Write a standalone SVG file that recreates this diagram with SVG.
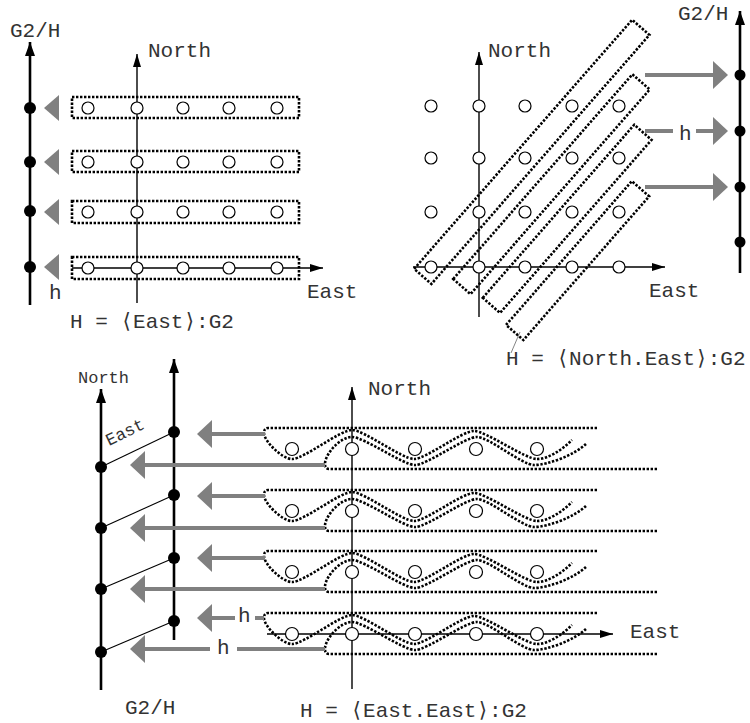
<svg xmlns="http://www.w3.org/2000/svg" xmlns:xlink="http://www.w3.org/1999/xlink" width="750" height="723" viewBox="0 0 750 723">
<style>
  .t { font-family: "Liberation Mono", "DejaVu Sans Mono", monospace; font-size: 21px; fill: #333; }
  .ts { font-family: "Liberation Mono", "DejaVu Sans Mono", monospace; font-size: 17px; fill: #333; }
  .ax { stroke: #000; stroke-width: 1.4; fill: none; }
  .axb { stroke: #000; stroke-width: 2.6; fill: none; }
  .dot { stroke: #000; stroke-width: 2.6; stroke-dasharray: 2.4 1.6; fill: none; }
  .pt { fill: #fff; stroke: #000; stroke-width: 1.2; }
  .fd { fill: #000; }
  .ga { stroke: #808080; stroke-width: 4; fill: none; }
  .gt { fill: #808080; }
  .thin { stroke: #000; stroke-width: 1.1; fill: none; }
</style>
<defs>
  <marker id="arr" markerUnits="userSpaceOnUse" viewBox="0 0 13 8" markerWidth="13" markerHeight="8" refX="13" refY="4" orient="auto">
    <path d="M0,0 L13,4 L0,8 z" fill="#000"/>
  </marker>
  <marker id="arrB" markerUnits="userSpaceOnUse" viewBox="0 0 14 10" markerWidth="14" markerHeight="10" refX="14" refY="5" orient="auto">
    <path d="M0,0 L14,5 L0,10 z" fill="#000"/>
  </marker>
  <marker id="garr" markerUnits="userSpaceOnUse" viewBox="0 0 15 28" markerWidth="15" markerHeight="28" refX="0" refY="14" orient="auto">
    <path d="M0,0 L15,14 L0,28 z" fill="#808080"/>
  </marker>
  <g id="wave">
    <path class="dot" d="M597,428 H268 Q264,428 264,433 C264,441 282,459 292,459 C304,459 340,430 352,430 C364,430 402,459 414,459 C426,459 462,431 474,431 C486,431 525,459 537,459 C548,459 562,450 572,440"/>
    <path class="dot" d="M657,469 H329 Q325,469 325,464 C325,454 340,437 352,437 C364,437 403,465 415,465 C427,465 465,437 477,437 C489,437 522,465 534,465 C548,465 575,455 587,443"/>
  </g>
  <g id="row5">
    <circle class="pt" cx="292" cy="449" r="6.5"/>
    <circle class="pt" cx="352" cy="449" r="6.5"/>
    <circle class="pt" cx="415" cy="449" r="6.5"/>
    <circle class="pt" cx="476" cy="449" r="6.5"/>
    <circle class="pt" cx="537" cy="449" r="6.5"/>
  </g>
</defs>

<!-- ================= Top-left panel: H = <East> ================= -->
<g id="panel-east">
  <g id="tl-axes">
    <line class="axb" x1="30" y1="305" x2="30" y2="42" marker-end="url(#arrB)"/>
    <line class="ax" x1="137" y1="303" x2="137" y2="54" marker-end="url(#arr)"/>
    <line class="ax" x1="72" y1="268" x2="323" y2="268" marker-end="url(#arr)"/>
  </g>
  <g id="tl-cosets">
    <rect class="dot" x="72" y="97" width="227" height="21"/>
    <rect class="dot" x="72" y="151" width="227" height="21"/>
    <rect class="dot" x="72" y="201" width="227" height="22"/>
    <rect class="dot" x="72" y="257" width="227" height="22"/>
  </g>
  <g id="tl-points">
    <circle class="pt" cx="88" cy="108" r="6"/><circle class="pt" cx="137" cy="108" r="6"/><circle class="pt" cx="183" cy="108" r="6"/><circle class="pt" cx="229" cy="108" r="6"/><circle class="pt" cx="277" cy="108" r="6"/>
    <circle class="pt" cx="88" cy="162" r="6"/><circle class="pt" cx="137" cy="162" r="6"/><circle class="pt" cx="183" cy="162" r="6"/><circle class="pt" cx="229" cy="162" r="6"/><circle class="pt" cx="277" cy="162" r="6"/>
    <circle class="pt" cx="88" cy="212" r="6"/><circle class="pt" cx="137" cy="212" r="6"/><circle class="pt" cx="183" cy="212" r="6"/><circle class="pt" cx="229" cy="212" r="6"/><circle class="pt" cx="277" cy="212" r="6"/>
    <circle class="pt" cx="88" cy="268" r="6"/><circle class="pt" cx="137" cy="268" r="6"/><circle class="pt" cx="183" cy="268" r="6"/><circle class="pt" cx="229" cy="268" r="6"/><circle class="pt" cx="277" cy="268" r="6"/>
  </g>
  <g id="tl-maps">
    <polygon class="gt" points="44,108 59,95 59,121"/>
    <polygon class="gt" points="44,162 59,149 59,175"/>
    <polygon class="gt" points="44,212 59,199 59,225"/>
    <polygon class="gt" points="44,267 59,254 59,280"/>
  </g>
  <g id="tl-quotient">
    <circle class="fd" cx="30" cy="108" r="6"/>
    <circle class="fd" cx="30" cy="162" r="6"/>
    <circle class="fd" cx="30" cy="211" r="6"/>
    <circle class="fd" cx="30" cy="267" r="6"/>
  </g>
  <g id="tl-labels">
    <text class="t" x="10" y="37">G2/H</text>
    <text class="t" x="148" y="57">North</text>
    <text class="t" x="307" y="298">East</text>
    <text class="t" x="49" y="299">h</text>
    <text class="t" x="70" y="328">H = ⟨East⟩:G2</text>
  </g>
</g>

<!-- ================= Top-right panel: H = <North.East> ================= -->
<g id="panel-northeast">
  <g id="tr-axes">
    <line class="ax" x1="479" y1="317" x2="479" y2="52" marker-end="url(#arr)"/>
    <line class="ax" x1="413" y1="267" x2="665" y2="267" marker-end="url(#arr)"/>
    <line class="axb" x1="740" y1="273" x2="740" y2="11" marker-end="url(#arrB)"/>
  </g>
  <g id="tr-cosets">
    <rect class="dot" x="418.5" y="255.5" width="331" height="23" transform="rotate(-48.8 431 267)"/>
    <rect class="dot" x="453" y="255.5" width="272" height="23" transform="rotate(-48.8 479 267)"/>
    <rect class="dot" x="474" y="255.5" width="230" height="23" transform="rotate(-48.8 525 267)"/>
    <rect class="dot" x="485" y="255.5" width="191" height="23" transform="rotate(-48.8 572 267)"/>
  </g>
  <g id="tr-points">
    <circle class="pt" cx="431" cy="106" r="6"/><circle class="pt" cx="479" cy="106" r="6"/><circle class="pt" cx="525" cy="106" r="6"/><circle class="pt" cx="572" cy="106" r="6"/><circle class="pt" cx="619" cy="106" r="6"/>
    <circle class="pt" cx="431" cy="158" r="6"/><circle class="pt" cx="479" cy="158" r="6"/><circle class="pt" cx="525" cy="158" r="6"/><circle class="pt" cx="572" cy="158" r="6"/><circle class="pt" cx="619" cy="158" r="6"/>
    <circle class="pt" cx="431" cy="212" r="6"/><circle class="pt" cx="479" cy="212" r="6"/><circle class="pt" cx="525" cy="212" r="6"/><circle class="pt" cx="572" cy="212" r="6"/><circle class="pt" cx="619" cy="212" r="6"/>
    <circle class="pt" cx="431" cy="267" r="6"/><circle class="pt" cx="479" cy="267" r="6"/><circle class="pt" cx="525" cy="267" r="6"/><circle class="pt" cx="572" cy="267" r="6"/><circle class="pt" cx="619" cy="267" r="6"/>
  </g>
  <g id="tr-maps">
    <line class="ga" x1="645" y1="75" x2="713" y2="75" marker-end="url(#garr)"/>
    <line class="ga" x1="645" y1="131" x2="673" y2="131"/>
    <line class="ga" x1="696" y1="131" x2="713" y2="131" marker-end="url(#garr)"/>
    <line class="ga" x1="645" y1="187" x2="713" y2="187" marker-end="url(#garr)"/>
  </g>
  <g id="tr-quotient">
    <circle class="fd" cx="740" cy="75" r="5.5"/>
    <circle class="fd" cx="740" cy="131" r="5.5"/>
    <circle class="fd" cx="740" cy="187" r="5.5"/>
    <circle class="fd" cx="740" cy="242" r="5.5"/>
  </g>
  <g id="tr-labels">
    <line x1="511" y1="353" x2="520" y2="332" stroke="#777" stroke-width="0.9"/>
    <text class="t" x="678" y="20">G2/H</text>
    <text class="t" x="488" y="57">North</text>
    <text class="t" x="649" y="297">East</text>
    <text class="t" x="679" y="140">h</text>
    <text class="t" x="506" y="365">H = ⟨North.East⟩:G2</text>
  </g>
</g>

<!-- ================= Bottom panel: H = <East.East> ================= -->
<g id="panel-easteast">
  <g id="b-axes">
    <line class="ax" x1="352" y1="689" x2="352" y2="387" marker-end="url(#arr)"/>
    <line class="ax" x1="267" y1="634" x2="613" y2="634" marker-end="url(#arr)"/>
    <line class="axb" x1="101" y1="690" x2="101" y2="389" marker-end="url(#arrB)"/>
    <line class="axb" x1="174" y1="640" x2="174" y2="359" marker-end="url(#arrB)"/>
  </g>
  <g id="b-cosets">
    <use xlink:href="#wave"/>
    <use xlink:href="#wave" y="62"/>
    <use xlink:href="#wave" y="123"/>
    <use xlink:href="#wave" y="185"/>
  </g>
  <g id="b-points">
    <use xlink:href="#row5"/>
    <use xlink:href="#row5" y="62"/>
    <use xlink:href="#row5" y="123"/>
    <use xlink:href="#row5" y="185"/>
  </g>
  <g id="b-maps">
    <line class="ga" x1="265" y1="434" x2="212" y2="434" marker-end="url(#garr)"/>
    <line class="ga" x1="325" y1="465" x2="145" y2="465" marker-end="url(#garr)"/>
    <line class="ga" x1="265" y1="496" x2="212" y2="496" marker-end="url(#garr)"/>
    <line class="ga" x1="325" y1="528" x2="145" y2="528" marker-end="url(#garr)"/>
    <line class="ga" x1="265" y1="558" x2="212" y2="558" marker-end="url(#garr)"/>
    <line class="ga" x1="325" y1="589" x2="145" y2="589" marker-end="url(#garr)"/>
    <line class="ga" x1="235" y1="618" x2="212" y2="618" marker-end="url(#garr)"/>
    <line class="ga" x1="255" y1="618" x2="264" y2="618"/>
    <line class="ga" x1="210" y1="649" x2="145" y2="649" marker-end="url(#garr)"/>
    <line class="ga" x1="237" y1="649" x2="325" y2="649"/>
  </g>
  <g id="b-quotient">
    <line class="thin" x1="101" y1="467" x2="174" y2="432"/>
    <line class="thin" x1="101" y1="528" x2="174" y2="495"/>
    <line class="thin" x1="101" y1="589" x2="174" y2="558"/>
    <line class="thin" x1="101" y1="652" x2="174" y2="621"/>
    <circle class="fd" cx="101" cy="467" r="6"/>
    <circle class="fd" cx="101" cy="528" r="6"/>
    <circle class="fd" cx="101" cy="589" r="6"/>
    <circle class="fd" cx="101" cy="652" r="6"/>
    <circle class="fd" cx="174" cy="432" r="6"/>
    <circle class="fd" cx="174" cy="495" r="6"/>
    <circle class="fd" cx="174" cy="558" r="6"/>
    <circle class="fd" cx="174" cy="621" r="6"/>
  </g>
  <g id="b-labels">
    <text class="ts" x="78" y="383">North</text>
    <text class="ts" x="109" y="446" transform="rotate(-26 109 446)">East</text>
    <text class="t" x="368" y="395">North</text>
    <text class="t" x="630" y="638">East</text>
    <text class="t" x="238" y="622">h</text>
    <text class="t" x="217" y="654">h</text>
    <text class="t" x="125" y="714">G2/H</text>
    <text class="t" x="300" y="717">H = ⟨East.East⟩:G2</text>
  </g>
</g>
</svg>
